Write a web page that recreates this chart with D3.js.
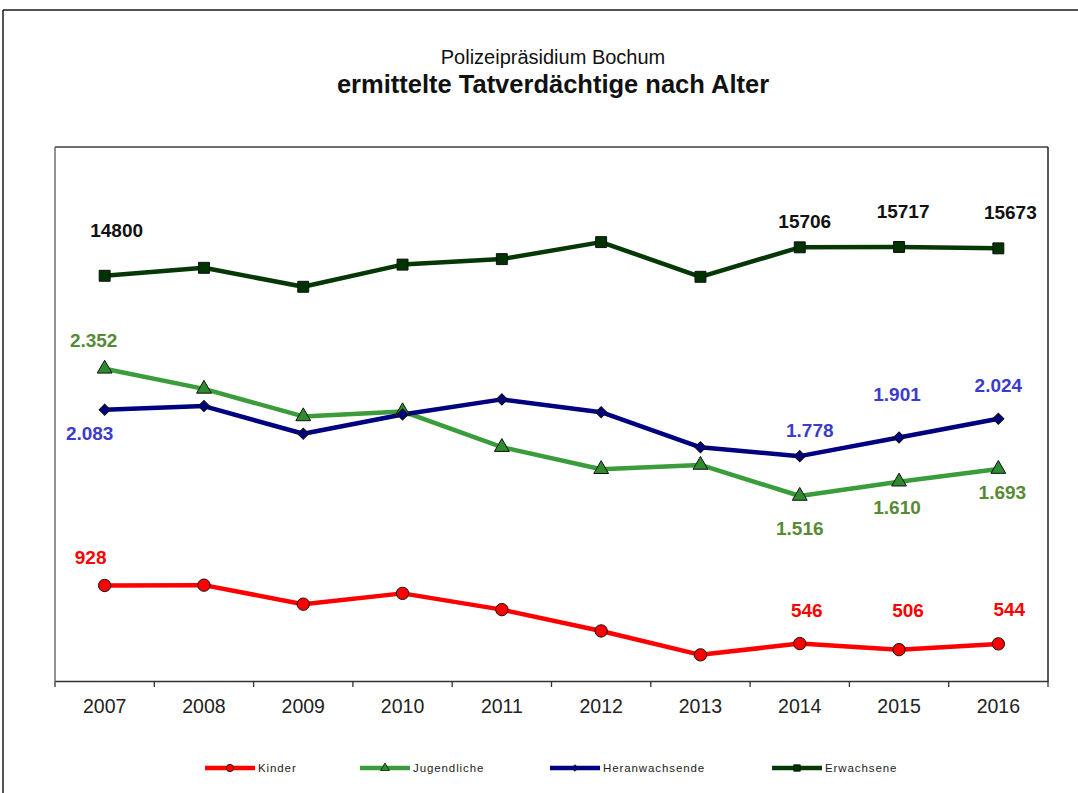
<!DOCTYPE html>
<html><head><meta charset="utf-8">
<script src="https://cdn.jsdelivr.net/npm/d3@7"></script>
<style>
html,body{margin:0;padding:0;background:#fff;}
svg{display:block;font-family:"Liberation Sans",Arial,sans-serif;}
</style></head>
<body>
<svg id="c" width="1078" height="793"></svg>
<script>
// ---- data ----
const years = ["2007","2008","2009","2010","2011","2012","2013","2014","2015","2016"];
const kinder = [928, 930, 805, 876, 769, 629, 472, 546, 506, 544];
const jugendliche = [2352, 2220, 2039, 2072, 1837, 1692, 1720, 1516, 1610, 1693];
const heranwachsende = [2083, 2107, 1925, 2052, 2151, 2067, 1836, 1778, 1901, 2024];
const erwachsene = [14800, 15054, 14450, 15156, 15331, 15872, 14768, 15706, 15717, 15673];
const seriesNames = ["Kinder", "Jugendliche", "Heranwachsende", "Erwachsene"];
const labelledIdx = [0, 7, 8, 9];
const titleTop = "Polizeipräsidium Bochum";
const titleMain = "ermittelte Tatverdächtige nach Alter";

// ---- layout ----
const svg = d3.select("#c");
const P = {l:55, r:1048, t:147, b:681};

const x = d3.scaleBand().domain(years).range([P.l, P.r]).padding(0);
const yL = d3.scaleLinear().domain([300, 3810]).range([P.b, P.t]);
const yR = d3.scaleLinear().domain([1900, 18900]).range([P.b, P.t]);

const de = d3.formatLocale({decimal:",", thousands:".", grouping:[3], currency:["","€"]});
const fmtDot = de.format(",d");
const fmtPlain = d3.format("d");

const series = [
  {name:seriesNames[0], values:kinder, y:yL, line:"#ff0000", fill:"#ff0000", lab:"#ff0000", sym:d3.symbolCircle, size:120, rot:0, fmt:fmtDot,
   off:[[-14,-28],[0,0],[0,0],[0,0],[0,0],[0,0],[0,0],[7,-33],[9,-39],[11,-35]]},
  {name:seriesNames[1], values:jugendliche, y:yL, line:"#3a9c3a", fill:"#2e8b2e", lab:"#578a35", sym:d3.symbolTriangle, size:95, rot:0, fmt:fmtDot,
   off:[[-11,-29],[0,0],[0,0],[0,0],[0,0],[0,0],[0,0],[0,32],[-2,25],[4,23]]},
  {name:seriesNames[2], values:heranwachsende, y:yL, line:"#000080", fill:"#000080", lab:"#3b3bcc", sym:d3.symbolSquare, size:62, rot:45, fmt:fmtDot,
   off:[[-15,23],[0,0],[0,0],[0,0],[0,0],[0,0],[0,0],[10,-26],[-2,-43],[0,-34]]},
  {name:seriesNames[3], values:erwachsene, y:yR, line:"#063806", fill:"#003300", lab:"#111111", sym:d3.symbolSquare, size:120, rot:0, fmt:fmtPlain,
   off:[[12,-46],[0,0],[0,0],[0,0],[0,0],[0,0],[0,0],[5,-26],[4,-36],[12,-36]]}
];

// outer frame
svg.append("line").attr("x1",3).attr("x2",1078).attr("y1",10).attr("y2",10).attr("stroke","#1a1a1a").attr("stroke-width",1.5);
svg.append("line").attr("x1",3).attr("x2",3).attr("y1",10).attr("y2",793).attr("stroke","#1a1a1a").attr("stroke-width",1.5);

// titles
svg.append("text").attr("x",553).attr("y",64).attr("text-anchor","middle")
  .attr("font-size",20).attr("fill","#111").text(titleTop);
svg.append("text").attr("x",553).attr("y",93).attr("text-anchor","middle")
  .attr("font-size",25.5).attr("font-weight","bold").attr("fill","#111").text(titleMain);

// plot box
svg.append("line").attr("x1",P.l).attr("x2",P.r).attr("y1",P.t).attr("y2",P.t).attr("stroke","#6e6e6e").attr("stroke-width",2);
svg.append("line").attr("x1",P.l).attr("x2",P.l).attr("y1",P.t).attr("y2",P.b).attr("stroke","#6e6e6e").attr("stroke-width",1.5);
svg.append("line").attr("x1",P.r).attr("x2",P.r).attr("y1",P.t).attr("y2",P.b).attr("stroke","#222").attr("stroke-width",1.5);

// x axis
const xAxis = svg.append("g").attr("transform",`translate(0,${P.b})`)
  .call(d3.axisBottom(x).tickSize(0).tickPadding(18));
xAxis.select(".domain").attr("stroke","#333").attr("stroke-width",1.5);
xAxis.selectAll("text").attr("font-size",19.5).attr("fill","#222").attr("font-family","Liberation Sans, Arial, sans-serif");
// tick marks at category boundaries
const bounds = years.map(d => x(d)).concat([x(years[years.length-1]) + x.bandwidth()]);
svg.append("g").selectAll("line").data(bounds).join("line")
  .attr("x1",d=>d).attr("x2",d=>d).attr("y1",P.b).attr("y2",P.b+6)
  .attr("stroke","#333").attr("stroke-width",1.3);

const cx = d => x(d) + x.bandwidth()/2;

// lines
series.forEach(s => {
  const pts = years.map((yr,i)=>[cx(yr), s.y(s.values[i])]);
  svg.append("path").attr("d", d3.line()(pts)).attr("fill","none")
    .attr("stroke", s.line).attr("stroke-width",4.5).attr("stroke-linejoin","round");
});
// markers
series.forEach(s => {
  const sym = d3.symbol().type(s.sym).size(s.size);
  svg.append("g").selectAll("path").data(s.values).join("path")
    .attr("d", sym)
    .attr("transform",(v,i)=>`translate(${cx(years[i])},${s.y(v)}) rotate(${s.rot})`)
    .attr("fill", s.fill).attr("stroke","#111").attr("stroke-width",1);
});
// labels
series.forEach(s => {
  svg.append("g").selectAll("text").data(labelledIdx).join("text")
    .attr("x", i => cx(years[i]) + s.off[i][0])
    .attr("y", i => s.y(s.values[i]) + s.off[i][1])
    .attr("dy","0.36em").attr("text-anchor","middle")
    .attr("font-size",19).attr("font-weight","bold").attr("fill", s.lab)
    .text(i => s.fmt(s.values[i]));
});

// legend
const legX = [205, 360, 550, 772];
const legY = 768;
series.forEach((s,k) => {
  const g = svg.append("g").attr("transform",`translate(${legX[k]},${legY})`);
  g.append("line").attr("x1",0).attr("x2",50).attr("y1",0).attr("y2",0)
    .attr("stroke", s.line).attr("stroke-width",4.5);
  g.append("path").attr("d", d3.symbol().type(s.sym).size(s.size*0.35)())
    .attr("transform",`translate(25,0) rotate(${s.rot})`).attr("fill", s.fill).attr("stroke","#111").attr("stroke-width",0.8);
  g.append("text").attr("x",53).attr("y",0).attr("dy","0.36em")
    .attr("font-size",11.5).attr("letter-spacing",0.9).attr("fill","#222").text(s.name);
});
</script>
</body></html>
